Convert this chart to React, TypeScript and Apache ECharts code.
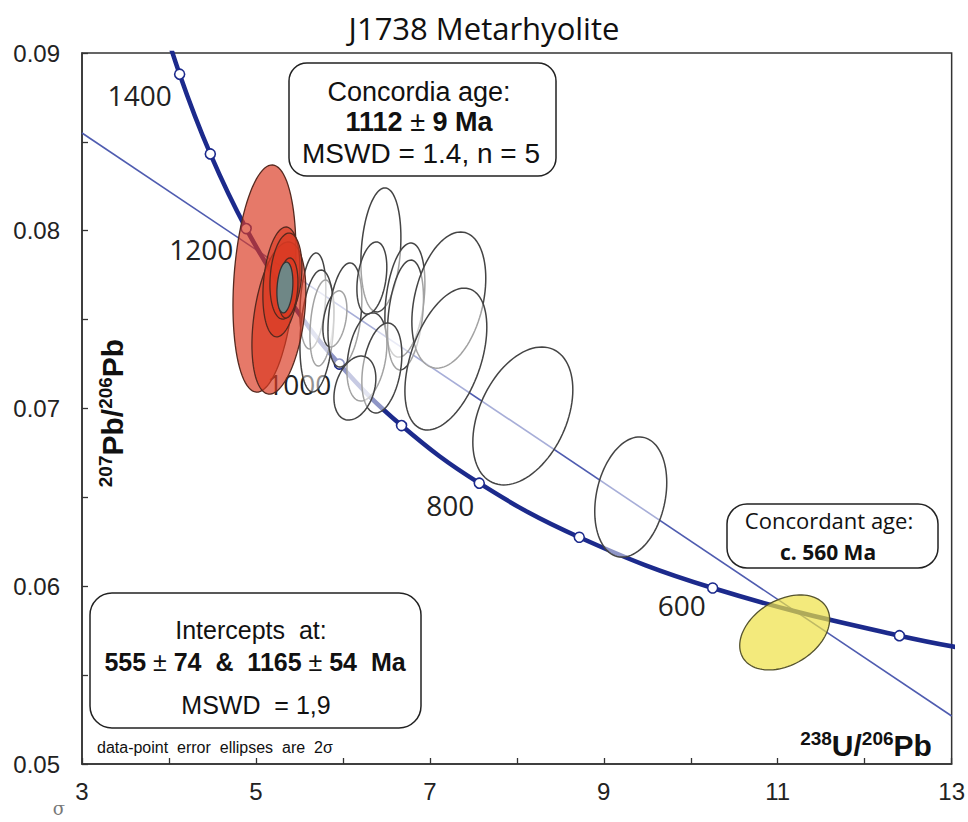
import React, { useEffect, useRef } from 'react';
import * as echarts from 'echarts';

// Concordia curve (Tera-Wasserburg), ages in Ma with 238U/206Pb and 207Pb/206Pb
const concordiaAge = [1500, 1400, 1300, 1200, 1100, 1000, 900, 800, 700, 600, 500, 450];
const concordiaX = [3.817, 4.1227, 4.4756, 4.8875, 5.3746, 5.9593, 6.6743, 7.5684, 8.7182, 10.2518, 12.3993, 13.8313];
const concordiaY = [0.093597, 0.088807, 0.084323, 0.080122, 0.076187, 0.072499, 0.069042, 0.065799, 0.062757, 0.059901, 0.057219, 0.055941];
const markedAges = [1400, 1300, 1200, 1100, 1000, 900, 800, 700, 600, 500];
const labelledAges = [1400, 1200, 1000, 800, 600];

// Discordia line
const discordiaX = [3, 13];
const discordiaY = [0.0855, 0.0527];

// Open (excluded) data-point ellipses: centre, 2-sigma half widths, correlation
const openX = [5.655, 5.759, 5.701, 5.908, 6.023, 6.437, 6.333, 6.713, 6.72, 6.276, 6.448, 6.138, 7.218, 7.184, 8.069, 9.31];
const openY = [0.07605, 0.07481, 0.07436, 0.07504, 0.07526, 0.07892, 0.07734, 0.0761, 0.07526, 0.0729, 0.07228, 0.07115, 0.0761, 0.07278, 0.06958, 0.06502];
const openSx = [0.149, 0.138, 0.195, 0.138, 0.195, 0.23, 0.172, 0.23, 0.207, 0.23, 0.23, 0.241, 0.425, 0.471, 0.575, 0.414];
const openSy = [0.0027, 0.00242, 0.00343, 0.00158, 0.00293, 0.00349, 0.00203, 0.00321, 0.00309, 0.00248, 0.00253, 0.0018, 0.00383, 0.00399, 0.00388, 0.00338];
const openRho = [0.25, 0.3, 0.25, 0.35, 0.3, 0.2, 0.3, 0.3, 0.3, 0.3, 0.3, 0.3, 0.32, 0.45, 0.38, 0.24];

// Concordant (red) data-point ellipses
const redX = [5.098, 5.264, 5.293, 5.345, 5.368];
const redY = [0.07731, 0.07509, 0.07712, 0.07745, 0.07678];
const redSx = [0.362, 0.31, 0.213, 0.184, 0.115];
const redSy = [0.00639, 0.00428, 0.00309, 0.00242, 0.00169];
const redRho = [0.24, 0.35, 0.25, 0.2, 0.2];

// Concordia age ellipse (1112 Ma) and concordant young ellipse (c. 560 Ma)
const ageEllipseX = [5.333];
const ageEllipseY = [0.07681];
const ageEllipseSx = [0.092];
const ageEllipseSy = [0.00143];
const ageEllipseRho = [0.2];

const youngX = [11.08];
const youngY = [0.0574];
const youngSx = [0.517];
const youngSy = [0.00211];
const youngRho = [0.35];

const xTickLabels = ['3', '5', '7', '9', '11', '13'];
const yTickLabels = ['0.05', '0.06', '0.07', '0.08', '0.09'];

const labelOffsets: Record<number, number[]> = {
  1400: [-40, 21],
  1200: [-45, 20],
  1000: [-40, 20],
  800: [-29, 22],
  600: [-31, 17],
};

const rows = (xs: number[], ys: number[], sxs: number[], sys: number[], rhos: number[]) =>
  xs.map((x, i) => [x, ys[i], sxs[i], sys[i], rhos[i]]);

const ellipseRenderer = (fill: string, stroke: string, lineWidth: number) => (params: any, api: any) => {
  const cx = api.value(0);
  const cy = api.value(1);
  const sx = api.value(2);
  const sy = api.value(3);
  const rho = api.value(4);
  const k = Math.sqrt(1 - rho * rho);
  const pts: number[][] = [];
  const n = 96;
  for (let i = 0; i < n; i++) {
    const t = (i / n) * Math.PI * 2;
    pts.push(api.coord([cx + sx * Math.cos(t), cy + sy * (rho * Math.cos(t) + k * Math.sin(t))]));
  }
  return { type: 'polygon', shape: { points: pts }, style: { fill, stroke, lineWidth } };
};

const SANS = '"Liberation Sans", Arial, Helvetica, sans-serif';
const MYR = '"Open Sans", "Noto Sans", sans-serif';
const BLUE = '#1c2a8c';

export default function App() {
  const ref = useRef<HTMLDivElement>(null);
  useEffect(() => {
    if (!ref.current) return;
    const chart = echarts.init(ref.current, undefined, { renderer: 'svg' });

    const concordiaData = concordiaX.map((x, i) => {
      const age = concordiaAge[i];
      const item: any = {
        value: [x, concordiaY[i]],
        symbol: markedAges.includes(age) ? 'circle' : 'none',
      };
      if (labelledAges.includes(age)) {
        item.label = {
          show: true,
          formatter: String(age),
          position: 'inside',
          offset: labelOffsets[age],
          fontFamily: MYR,
          fontSize: 28,
          color: '#222',
        };
      }
      return item;
    });

    const option: any = {
      animation: false,
      backgroundColor: '#fff',
      title: {
        text: 'J1738 Metarhyolite',
        left: 'center',
        top: 7,
        textStyle: { fontFamily: MYR, fontSize: 31, fontWeight: 'normal', color: '#111' },
      },
      grid: {
        left: 82,
        right: 16,
        top: 53,
        bottom: 58,
        show: true,
        borderColor: '#333',
        borderWidth: 1.5,
        backgroundColor: 'transparent',
      },
      xAxis: {
        type: 'value',
        min: 3,
        max: 13,
        interval: 1,
        axisLine: { show: true, lineStyle: { color: '#333', width: 1.5 } },
        axisTick: { show: true, inside: true, length: 6, lineStyle: { color: '#333', width: 1.3 } },
        axisLabel: {
          formatter: (v: number) => (xTickLabels.includes(String(v)) ? String(v) : ''),
          fontFamily: SANS,
          fontSize: 24,
          color: '#222',
          margin: 15,
        },
        splitLine: { show: false },
      },
      yAxis: {
        type: 'value',
        min: 0.05,
        max: 0.09,
        interval: 0.005,
        axisLine: { show: true, lineStyle: { color: '#333', width: 1.5 } },
        axisTick: { show: true, inside: true, length: 6, lineStyle: { color: '#333', width: 1.3 } },
        axisLabel: {
          formatter: (v: number) => {
            const s = v.toFixed(2);
            return yTickLabels.includes(s) && Math.abs(v - parseFloat(s)) < 1e-6 ? s : '';
          },
          fontFamily: SANS,
          fontSize: 24,
          color: '#222',
          margin: 22,
        },
        splitLine: { show: false },
      },
      series: [
        {
          type: 'line',
          name: 'Discordia',
          data: discordiaX.map((x, i) => [x, discordiaY[i]]),
          symbol: 'none',
          lineStyle: { color: '#4f5cb0', width: 1.6 },
          z: 2,
          silent: true,
        },
        {
          type: 'line',
          name: 'Concordia',
          data: concordiaData,
          smooth: 0.4,
          symbolSize: 10,
          showAllSymbol: true,
          itemStyle: { color: '#fff', borderColor: BLUE, borderWidth: 1.6 },
          lineStyle: { color: BLUE, width: 4.5 },
          z: 2,
          clip: true,
          silent: true,
        },
        {
          type: 'custom',
          name: 'Open ellipses',
          renderItem: ellipseRenderer('rgba(255,255,255,0.5)', '#444', 1.5),
          data: rows(openX, openY, openSx, openSy, openRho),
          encode: { x: 0, y: 1 },
          z: 3,
          silent: true,
        },
        {
          type: 'custom',
          name: 'Concordant ellipses',
          renderItem: ellipseRenderer('rgba(218,58,34,0.68)', '#55291f', 1.3),
          data: rows(redX, redY, redSx, redSy, redRho),
          encode: { x: 0, y: 1 },
          z: 4,
          silent: true,
        },
        {
          type: 'custom',
          name: 'Concordia age',
          renderItem: ellipseRenderer('#6f8786', '#333', 1.3),
          data: rows(ageEllipseX, ageEllipseY, ageEllipseSx, ageEllipseSy, ageEllipseRho),
          encode: { x: 0, y: 1 },
          z: 5,
          silent: true,
        },
        {
          type: 'custom',
          name: 'Concordant age',
          renderItem: ellipseRenderer('rgba(238,225,68,0.7)', '#55532e', 1.3),
          data: rows(youngX, youngY, youngSx, youngSy, youngRho),
          encode: { x: 0, y: 1 },
          z: 5,
          silent: true,
        },
      ],
      graphic: [
        // Concordia age box
        {
          type: 'group',
          z: 10,
          children: [
            { type: 'rect', shape: { x: 289, y: 63, width: 267, height: 113, r: 18 }, style: { fill: 'rgba(255,255,255,0)', stroke: '#222', lineWidth: 1.5 } },
            { type: 'text', x: 419, y: 92, style: { text: 'Concordia age:', fontFamily: SANS, fontSize: 27, fill: '#111', textAlign: 'center', textVerticalAlign: 'middle' } },
            {
              type: 'text', x: 419, y: 122,
              style: {
                text: '{b|1112 }{n|±}{b| 9 Ma}',
                textAlign: 'center', textVerticalAlign: 'middle',
                rich: {
                  b: { fontFamily: SANS, fontSize: 27, fontWeight: 'bold', fill: '#111' },
                  n: { fontFamily: SANS, fontSize: 27, fill: '#111' },
                },
              },
            },
            { type: 'text', x: 421, y: 153, style: { text: 'MSWD = 1.4, n = 5', fontFamily: SANS, fontSize: 28, fill: '#111', textAlign: 'center', textVerticalAlign: 'middle' } },
          ],
        },
        // Concordant age box
        {
          type: 'group',
          z: 10,
          children: [
            { type: 'rect', shape: { x: 727, y: 504, width: 211, height: 64, r: 20 }, style: { fill: 'rgba(255,255,255,0)', stroke: '#222', lineWidth: 1.5 } },
            { type: 'text', x: 829, y: 520, style: { text: 'Concordant age:', fontFamily: MYR, fontSize: 22, fill: '#111', textAlign: 'center', textVerticalAlign: 'middle' } },
            { type: 'text', x: 828, y: 552, style: { text: 'c. 560 Ma', fontFamily: MYR, fontSize: 21, fontWeight: 'bold', fill: '#111', textAlign: 'center', textVerticalAlign: 'middle' } },
          ],
        },
        // Intercepts box
        {
          type: 'group',
          z: 10,
          children: [
            { type: 'rect', shape: { x: 90, y: 593, width: 331, height: 135, r: 22 }, style: { fill: 'rgba(255,255,255,0)', stroke: '#222', lineWidth: 1.5 } },
            { type: 'text', x: 251, y: 630, style: { text: 'Intercepts  at:', fontFamily: SANS, fontSize: 25, fill: '#111', textAlign: 'center', textVerticalAlign: 'middle' } },
            {
              type: 'text', x: 255, y: 662,
              style: {
                text: '{b|555 }{n|±}{b| 74  &  1165 }{n|±}{b| 54  Ma}',
                textAlign: 'center', textVerticalAlign: 'middle',
                rich: {
                  b: { fontFamily: SANS, fontSize: 25, fontWeight: 'bold', fill: '#111' },
                  n: { fontFamily: SANS, fontSize: 25, fill: '#111' },
                },
              },
            },
            { type: 'text', x: 256, y: 705, style: { text: 'MSWD  = 1,9', fontFamily: SANS, fontSize: 25, fill: '#111', textAlign: 'center', textVerticalAlign: 'middle' } },
          ],
        },
        { type: 'text', z: 10, x: 97, y: 747, style: { text: 'data-point  error  ellipses  are  2σ', fontFamily: SANS, fontSize: 16, fill: '#111', textAlign: 'left', textVerticalAlign: 'middle' } },
        // Axis titles
        {
          type: 'text', z: 10, x: 112, y: 413, rotation: Math.PI / 2,
          style: {
            text: '{s|207}{b|Pb/}{s|206}{b|Pb}',
            textAlign: 'center', textVerticalAlign: 'middle',
            rich: {
              s: { fontFamily: SANS, fontSize: 19, fontWeight: 'bold', fill: '#111', verticalAlign: 'top', lineHeight: 20 },
              b: { fontFamily: SANS, fontSize: 30, fontWeight: 'bold', fill: '#111', lineHeight: 32 },
            },
          },
        },
        {
          type: 'text', z: 10, x: 866, y: 745,
          style: {
            text: '{s|238}{b|U/}{s|206}{b|Pb}',
            textAlign: 'center', textVerticalAlign: 'middle',
            rich: {
              s: { fontFamily: SANS, fontSize: 19, fontWeight: 'bold', fill: '#111', verticalAlign: 'top', lineHeight: 20 },
              b: { fontFamily: SANS, fontSize: 30, fontWeight: 'bold', fill: '#111', lineHeight: 32 },
            },
          },
        },
        { type: 'text', z: 10, x: 59, y: 808, style: { text: 'σ', fontFamily: '"DejaVu Serif", serif', fontSize: 18, fill: '#777', textAlign: 'center', textVerticalAlign: 'middle' } },
      ],
    };

    chart.setOption(option);
    return () => chart.dispose();
  }, []);

  return <div ref={ref} style={{ position: 'absolute', left: 0, top: 0, width: 968, height: 822 }} />;
}
